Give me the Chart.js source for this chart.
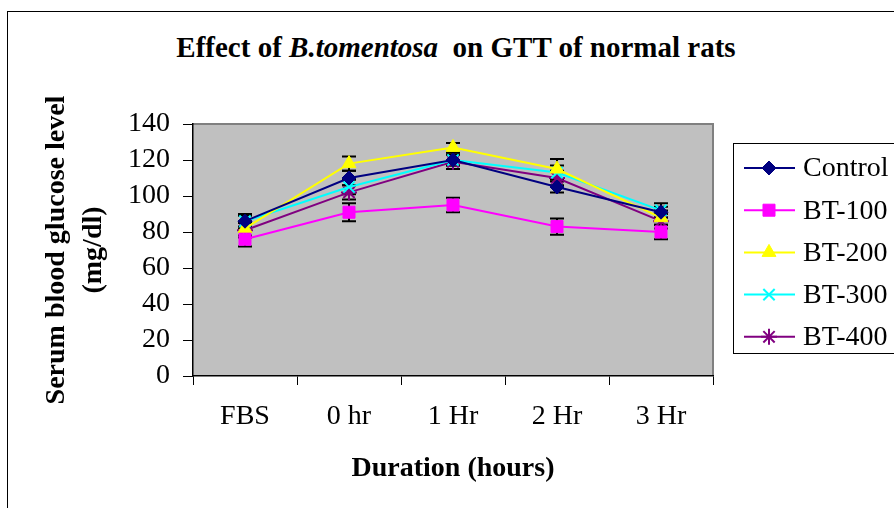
<!DOCTYPE html>
<html>
<head>
<meta charset="utf-8">
<script src="https://cdn.jsdelivr.net/npm/chart.js@4"></script>
<style>
  html, body { margin: 0; padding: 0; background: #fff; overflow: hidden; }
  #wrap { position: relative; width: 894px; height: 508px; }
  #frame { position: absolute; left: 7px; top: 11px; width: 1000px; height: 600px;
           border-left: 1.5px solid #000; border-top: 1.5px solid #000; }
  #title { position: absolute; left: 0; width: 912px; top: 31px; text-align: center;
           font: bold 29px "Liberation Serif", "Times New Roman", serif; line-height: 33px; color: #000; }
  canvas { position: absolute; left: 0; top: 0; }
</style>
</head>
<body>
<div id="wrap">
  <div id="frame"></div>
  <div id="title">Effect of <i>B.tomentosa</i>&nbsp; on GTT of normal rats</div>
  <canvas id="gtt" width="894" height="508"></canvas>
</div>
<script>
const categories = ['FBS', '0 hr', '1 Hr', '2 Hr', '3 Hr'];

const control = [86, 110, 120, 105, 91];
const bt100 = [76, 91, 95, 83, 80];
const bt200 = [82, 118, 127, 115, 88];
const bt300 = [86, 105, 120, 113, 92];
const bt400 = [81, 102, 119, 110, 86];

// +/- error bar sizes
const controlErr = [3, 4, 3, 3, 3];
const bt100Err = [4, 5, 4, 4.5, 4];
const bt200Err = [4, 4, 2.5, 5.5, 4];
const bt300Err = [4, 4, 3, 4, 4];
const bt400Err = [4, 4, 4, 4, 4];

const serif = '"Liberation Serif", "Times New Roman", serif';

function series(label, data, errors, color, style, radius, fill) {
    return {
        label: label,
        data: data,
        errors: errors,
        borderColor: color,
        backgroundColor: color,
        borderWidth: 2,
        pointStyle: style,
        pointRadius: radius,
        pointBackgroundColor: fill ? color : 'transparent',
        pointBorderColor: color,
        pointBorderWidth: fill ? 1 : 2,
        tension: 0
    };
}

// grey plot area with its border
const plotBackground = {
    id: 'plotBackground',
    beforeDraw(chart) {
        const { ctx, chartArea: a } = chart;
        ctx.save();
        ctx.fillStyle = '#c0c0c0';
        ctx.fillRect(a.left, a.top, a.right - a.left, a.bottom - a.top);
        ctx.strokeStyle = '#808080';
        ctx.lineWidth = 2;
        ctx.beginPath();
        ctx.moveTo(a.left, a.top);
        ctx.lineTo(a.right, a.top);
        ctx.lineTo(a.right, a.bottom);
        ctx.stroke();
        ctx.restore();
    }
};

// vertical error bars with caps
const errorBars = {
    id: 'errorBars',
    beforeDatasetsDraw(chart) {
        const { ctx, scales: { y } } = chart;
        ctx.save();
        ctx.strokeStyle = '#000';
        ctx.lineWidth = 2;
        chart.data.datasets.forEach((ds, i) => {
            chart.getDatasetMeta(i).data.forEach((pt, j) => {
                const yTop = y.getPixelForValue(ds.data[j] + ds.errors[j]);
                const yBot = y.getPixelForValue(ds.data[j] - ds.errors[j]);
                ctx.beginPath();
                ctx.moveTo(pt.x, yTop); ctx.lineTo(pt.x, yBot);
                ctx.moveTo(pt.x - 7, yTop); ctx.lineTo(pt.x + 7, yTop);
                ctx.moveTo(pt.x - 7, yBot); ctx.lineTo(pt.x + 7, yBot);
                ctx.stroke();
            });
        });
        ctx.restore();
    }
};

// boxed legend: line with marker, then the name
const boxLegend = {
    id: 'boxLegend',
    afterDraw(chart) {
        const ctx = chart.ctx;
        ctx.save();
        ctx.fillStyle = '#fff';
        ctx.fillRect(733, 143, 170, 210);
        ctx.strokeStyle = '#000';
        ctx.lineWidth = 1;
        ctx.strokeRect(733.5, 143.5, 170, 210);
        chart.data.datasets.forEach((ds, i) => {
            const yy = 168 + i * 42.2;
            ctx.strokeStyle = ds.borderColor;
            ctx.lineWidth = 2;
            ctx.beginPath();
            ctx.moveTo(744, yy);
            ctx.lineTo(795, yy);
            ctx.stroke();
            ctx.fillStyle = ds.pointBackgroundColor;
            ctx.strokeStyle = ds.pointBorderColor;
            ctx.lineWidth = ds.pointBorderWidth;
            Chart.helpers.drawPoint(ctx, { pointStyle: ds.pointStyle, radius: ds.pointRadius, rotation: 0, borderWidth: ds.pointBorderWidth }, 769, yy);
            ctx.fillStyle = '#000';
            ctx.font = '28px ' + serif;
            ctx.textBaseline = 'middle';
            ctx.fillText(ds.label, 803, yy + 1);
        });
        ctx.restore();
    }
};

new Chart(document.getElementById('gtt').getContext('2d'), {
    type: 'line',
    data: {
        labels: categories,
        datasets: [
            series('Control', control, controlErr, '#000080', 'rectRot', 7, true),
            series('BT-100', bt100, bt100Err, '#ff00ff', 'rect', 8.5, true),
            series('BT-200', bt200, bt200Err, '#ffff00', 'triangle', 8, true),
            series('BT-300', bt300, bt300Err, '#00ffff', 'crossRot', 8, false),
            series('BT-400', bt400, bt400Err, '#800080', 'star', 8, false)
        ]
    },
    options: {
        responsive: false,
        animation: false,
        devicePixelRatio: 1,
        layout: { padding: { left: 0, top: 124, right: 181, bottom: 0 } },
        plugins: { legend: { display: false }, title: { display: false }, tooltip: { enabled: false } },
        scales: {
            x: {
                offset: true,
                grid: { offset: true, drawOnChartArea: false, drawTicks: true, tickLength: 9, color: '#000' },
                border: { color: '#000', width: 1.5 },
                ticks: { color: '#000', padding: 15, autoSkip: false, maxRotation: 0, font: { family: serif, size: 28 } },
                title: { display: true, text: 'Duration (hours)', color: '#000',
                         font: { family: serif, size: 28, weight: 'bold', lineHeight: 1.2 },
                         padding: { top: 0, bottom: 22 } },
                afterFit(scale) { scale.height = 132; }
            },
            y: {
                min: 0,
                max: 140,
                grid: { drawOnChartArea: false, drawTicks: true, tickLength: 10, color: '#000' },
                border: { color: '#000', width: 1.5 },
                ticks: { stepSize: 20, autoSkip: false, color: '#000', padding: 13, font: { family: serif, size: 28 } },
                title: { display: true, text: ['Serum blood glucose level', '(mg/dl)'], color: '#000',
                         font: { family: serif, size: 28, weight: 'bold', lineHeight: 1.32 },
                         padding: { top: 38.5, bottom: 0 } },
                afterFit(scale) { scale.width = 193; }
            }
        }
    },
    plugins: [plotBackground, errorBars, boxLegend]
});
</script>
</body>
</html>
